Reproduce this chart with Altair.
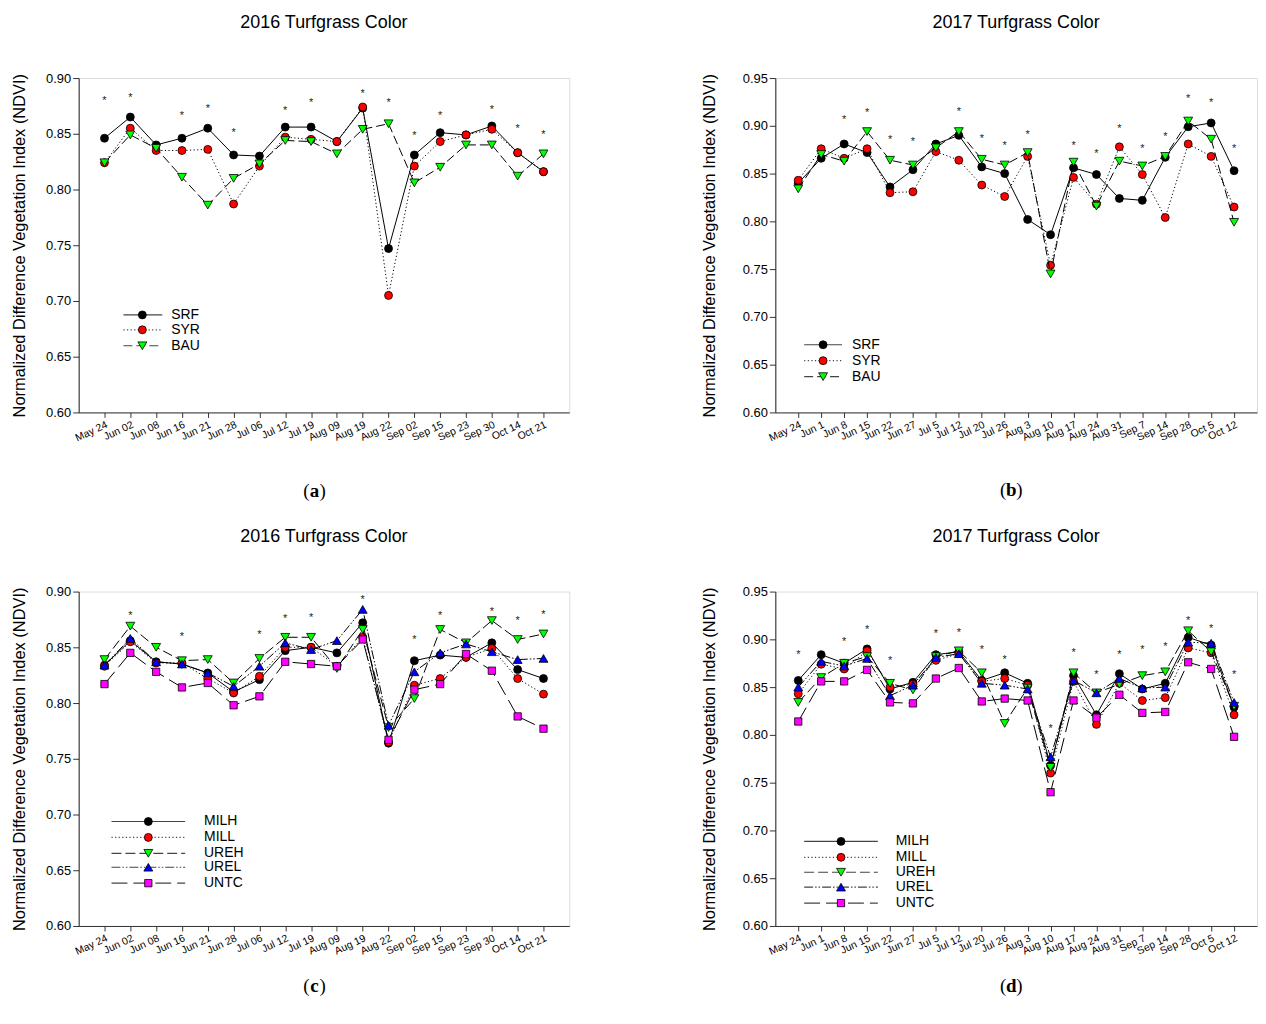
import altair as alt
import pandas as pd

# ---------------- data ----------------
dates_2016 = ["May 24", "Jun 02", "Jun 08", "Jun 16", "Jun 21", "Jun 28", "Jul 06", "Jul 12", "Jul 19",
              "Aug 09", "Aug 19", "Aug 22", "Sep 02", "Sep 15", "Sep 23", "Sep 30", "Oct 14", "Oct 21"]
dates_2017 = ["May 24", "Jun 1", "Jun 8", "Jun 15", "Jun 22", "Jun 27", "Jul 5", "Jul 12", "Jul 20", "Jul 26",
              "Aug 3", "Aug 10", "Aug 17", "Aug 24", "Aug 31", "Sep 7", "Sep 14", "Sep 28", "Oct 5", "Oct 12"]

# panel (a) 2016 products
a_SRF = [0.846, 0.865, 0.840, 0.846, 0.855, 0.831, 0.830, 0.856, 0.856, 0.843, 0.873, 0.747, 0.831, 0.851, 0.849, 0.857, 0.833, 0.816]
a_SYR = [0.824, 0.855, 0.835, 0.835, 0.836, 0.787, 0.821, 0.847, 0.845, 0.843, 0.874, 0.705, 0.821, 0.843, 0.849, 0.854, 0.833, 0.816]
a_BAU = [0.824, 0.849, 0.837, 0.811, 0.786, 0.810, 0.823, 0.844, 0.843, 0.832, 0.854, 0.859, 0.806, 0.820, 0.840, 0.840, 0.812, 0.832]
a_star = [0.882, 0.885, None, 0.869, 0.875, 0.853, None, 0.873, 0.880, None, 0.888, 0.880, 0.851, 0.869, None, 0.874, 0.857, 0.852]

# panel (b) 2017 products
b_SRF = [0.840, 0.866, 0.881, 0.872, 0.836, 0.854, 0.881, 0.890, 0.857, 0.850, 0.802, 0.786, 0.856, 0.849, 0.824, 0.822, 0.867, 0.899, 0.903, 0.853]
b_SYR = [0.843, 0.876, 0.866, 0.876, 0.830, 0.831, 0.873, 0.864, 0.838, 0.826, 0.868, 0.754, 0.846, 0.818, 0.878, 0.849, 0.804, 0.881, 0.868, 0.815]
b_BAU = [0.834, 0.870, 0.863, 0.894, 0.864, 0.859, 0.877, 0.894, 0.865, 0.859, 0.872, 0.745, 0.862, 0.816, 0.863, 0.858, 0.868, 0.905, 0.886, 0.799]
b_star = [None, None, 0.909, 0.916, 0.888, 0.886, None, 0.918, 0.889, 0.882, 0.893, None, 0.882, 0.874, 0.900, 0.879, 0.891, 0.931, 0.927, 0.879]

# panel (c) 2016 rates
c_MILH = [0.834, 0.856, 0.837, 0.835, 0.827, 0.810, 0.821, 0.847, 0.850, 0.845, 0.872, 0.764, 0.838, 0.843, 0.841, 0.854, 0.830, 0.822]
c_MILL = [0.833, 0.855, 0.836, 0.836, 0.822, 0.809, 0.824, 0.850, 0.850, 0.833, 0.859, 0.765, 0.816, 0.822, 0.841, 0.849, 0.822, 0.808]
c_UREH = [0.839, 0.869, 0.850, 0.838, 0.839, 0.818, 0.840, 0.859, 0.859, 0.831, 0.866, 0.778, 0.804, 0.866, 0.854, 0.874, 0.857, 0.862]
c_UREL = [0.834, 0.858, 0.837, 0.835, 0.827, 0.815, 0.833, 0.854, 0.848, 0.856, 0.884, 0.780, 0.828, 0.845, 0.853, 0.846, 0.839, 0.840]
c_UNTC = [0.817, 0.845, 0.828, 0.814, 0.818, 0.798, 0.806, 0.837, 0.835, 0.833, 0.857, 0.767, 0.812, 0.817, 0.844, 0.829, 0.788, 0.777]
c_star = [None, 0.881, None, 0.862, None, None, 0.864, 0.878, 0.879, None, 0.895, None, 0.859, 0.881, None, 0.884, 0.876, 0.882]

# panel (d) 2017 rates
d_MILH = [0.857, 0.884, 0.875, 0.890, 0.848, 0.855, 0.884, 0.887, 0.857, 0.865, 0.854, 0.768, 0.862, 0.821, 0.864, 0.848, 0.854, 0.902, 0.894, 0.829]
d_MILL = [0.843, 0.874, 0.869, 0.888, 0.850, 0.853, 0.878, 0.885, 0.856, 0.859, 0.852, 0.760, 0.856, 0.811, 0.854, 0.836, 0.839, 0.891, 0.886, 0.821]
d_UREH = [0.834, 0.860, 0.875, 0.882, 0.854, 0.847, 0.882, 0.888, 0.865, 0.812, 0.849, 0.766, 0.865, 0.844, 0.853, 0.862, 0.866, 0.909, 0.887, 0.830]
d_UREL = [0.850, 0.877, 0.872, 0.880, 0.841, 0.852, 0.881, 0.885, 0.854, 0.852, 0.848, 0.777, 0.857, 0.844, 0.859, 0.849, 0.850, 0.897, 0.896, 0.834]
d_UNTC = [0.814, 0.856, 0.856, 0.868, 0.834, 0.833, 0.859, 0.870, 0.835, 0.838, 0.836, 0.740, 0.836, 0.818, 0.842, 0.823, 0.824, 0.876, 0.869, 0.798]
d_star = [0.887, None, 0.900, 0.913, 0.880, None, 0.909, 0.910, 0.892, 0.882, None, 0.809, 0.889, 0.866, 0.887, 0.892, 0.895, 0.922, 0.914, 0.866]

ticks_a = [0.60, 0.65, 0.70, 0.75, 0.80, 0.85, 0.90]
ticks_b = [0.60, 0.65, 0.70, 0.75, 0.80, 0.85, 0.90, 0.95]

YTITLE = "Normalized Difference Vegetation Index (NDVI)"
SANS = "Liberation Sans"
SERIF = "Liberation Serif"

# ---------------- styles ----------------
STYLE = {
    "SRF":  dict(dash=None, shape="circle", fill="#000000", size=64),
    "SYR":  dict(dash=[1.2, 2.4], shape="circle", fill="#ff0000", size=64),
    "BAU":  dict(dash=[9, 4], shape="triangle-down", fill="#00ff00", size=80),
    "MILH": dict(dash=None, shape="circle", fill="#000000", size=64),
    "MILL": dict(dash=[1.2, 2.4], shape="circle", fill="#ff0000", size=64),
    "UREH": dict(dash=[10, 4], shape="triangle-down", fill="#00ff00", size=80),
    "UREL": dict(dash=[9, 2, 1.5, 2, 1.5, 2], shape="triangle-up", fill="#0000ff", size=80),
    "UNTC": dict(dash=[16, 6], shape="square", fill="#ff00ff", size=54),
}

one = pd.DataFrame({"k": [0]})


def line_kw(name):
    kw = dict(color="black", strokeWidth=1)
    if STYLE[name]["dash"]:
        kw["strokeDash"] = STYLE[name]["dash"]
    return kw


def point_kw(name):
    st = STYLE[name]
    return dict(shape=st["shape"], size=st["size"], filled=True, fill=st["fill"],
                stroke="black", strokeWidth=0.8, opacity=1, fillOpacity=1)


def make_panel(dates, names, series, stars, ticks, title, letter, cap_y, leg, width, height, tpad):
    rows = []
    for n, vals in zip(names, series):
        for d, v in zip(dates, vals):
            rows.append({"date": d, "series": n, "value": v})
    df = pd.DataFrame(rows)
    sdf = pd.DataFrame([{"date": d, "value": v} for d, v in zip(dates, stars) if v is not None])

    xenc = alt.X("date:N", sort=dates, scale=alt.Scale(type="point", padding=1),
                 axis=alt.Axis(title=None, grid=False, labelAngle=-25, labelAlign="right", labelBaseline="top",
                               labelFontSize=10.5, labelFont=SANS, labelColor="black", labelOverlap=False,
                               tickSize=5, labelPadding=2, domainColor="#333", tickColor="#333"))
    yenc = alt.Y("value:Q", scale=alt.Scale(domain=[ticks[0], ticks[-1]], nice=False, zero=False),
                 axis=alt.Axis(title=YTITLE, grid=False, values=ticks, format=".2f", labelFontSize=13,
                               labelFont=SANS, labelColor="black", tickSize=6, labelPadding=2, titleFont=SANS,
                               titleFontSize=16.5, titleFontWeight="normal", titleColor="black",
                               titlePadding=tpad, domainColor="#222", tickColor="#333"))

    layers = []
    for n in names:
        base = alt.Chart(df).transform_filter(alt.datum.series == n)
        layers.append(base.mark_line(**line_kw(n)).encode(x=xenc, y=yenc))
        layers.append(base.mark_point(**point_kw(n)).encode(x=xenc, y=yenc))

    layers.append(alt.Chart(sdf).mark_text(text="*", fontSize=11, font=SANS, color="#222", dy=3,
                                           baseline="middle").encode(x=xenc, y=yenc))

    # legend drawn inside the plot
    x1, x2, xm, xt, ys = leg
    for n, yy in zip(names, ys):
        rk = dict(color="#444", strokeWidth=1.2)
        if STYLE[n]["dash"]:
            rk["strokeDash"] = STYLE[n]["dash"]
        layers.append(alt.Chart(one).mark_rule(**rk).encode(
            x=alt.value(x1), x2=alt.value(x2), y=alt.value(yy)))
        layers.append(alt.Chart(one).mark_point(**point_kw(n)).encode(x=alt.value(xm), y=alt.value(yy)))
        layers.append(alt.Chart(one).mark_text(text=n, align="left", baseline="middle", fontSize=14,
                                               font=SANS, color="black").encode(
            x=alt.value(xt), y=alt.value(yy)))

    # caption "(x)"
    cx = 237
    layers.append(alt.Chart(one).mark_text(text="(", align="right", baseline="middle", fontSize=19,
                                           font=SERIF, color="black").encode(
        x=alt.value(cx - 5), y=alt.value(cap_y)))
    layers.append(alt.Chart(one).mark_text(text=letter, align="center", baseline="middle", fontSize=19,
                                           font=SERIF, fontWeight="bold", color="black").encode(
        x=alt.value(cx), y=alt.value(cap_y)))
    layers.append(alt.Chart(one).mark_text(text=")", align="left", baseline="middle", fontSize=19,
                                           font=SERIF, color="black").encode(
        x=alt.value(cx + 5), y=alt.value(cap_y)))

    return alt.layer(*layers).properties(
        width=width, height=height,
        title=alt.TitleParams(title, fontSize=18, font=SANS, fontWeight="normal", color="black",
                              anchor="middle", offset=40))


pa = make_panel(dates_2016, ["SRF", "SYR", "BAU"], [a_SRF, a_SYR, a_BAU], a_star, ticks_a,
                "2016 Turfgrass Color", "a", 415, (45, 84, 64, 93, [238, 253, 269]), 493, 336, 18)
pb = make_panel(dates_2017, ["SRF", "SYR", "BAU"], [b_SRF, b_SYR, b_BAU], b_star, ticks_b,
                "2017 Turfgrass Color", "b", 414, (29, 67, 48, 77, [268, 284, 300]), 484, 336, 25)
pc = make_panel(dates_2016, ["MILH", "MILL", "UREH", "UREL", "UNTC"],
                [c_MILH, c_MILL, c_UREH, c_UREL, c_UNTC], c_star, ticks_a,
                "2016 Turfgrass Color", "c", 396, (33, 107, 70, 126, [231, 247, 263, 277, 293]), 493, 336, 18)
pd_ = make_panel(dates_2017, ["MILH", "MILL", "UREH", "UREL", "UNTC"],
                 [d_MILH, d_MILL, d_UREH, d_UREL, d_UNTC], d_star, ticks_b,
                 "2017 Turfgrass Color", "d", 396, (29, 103, 66, 121, [251, 267, 282, 297, 313]), 484, 336, 25)

row1 = alt.hconcat(pa, pb, spacing=131)
row2 = alt.hconcat(pc, pd_, spacing=131)

chart = alt.vconcat(row1, row2, spacing=25).properties(
    padding={"left": 3, "top": 3, "right": 0, "bottom": 0}
).configure_view(stroke="#666", strokeWidth=1).configure(background="white")

chart.save("out.html", embed_options={"renderer": "svg", "actions": False})
